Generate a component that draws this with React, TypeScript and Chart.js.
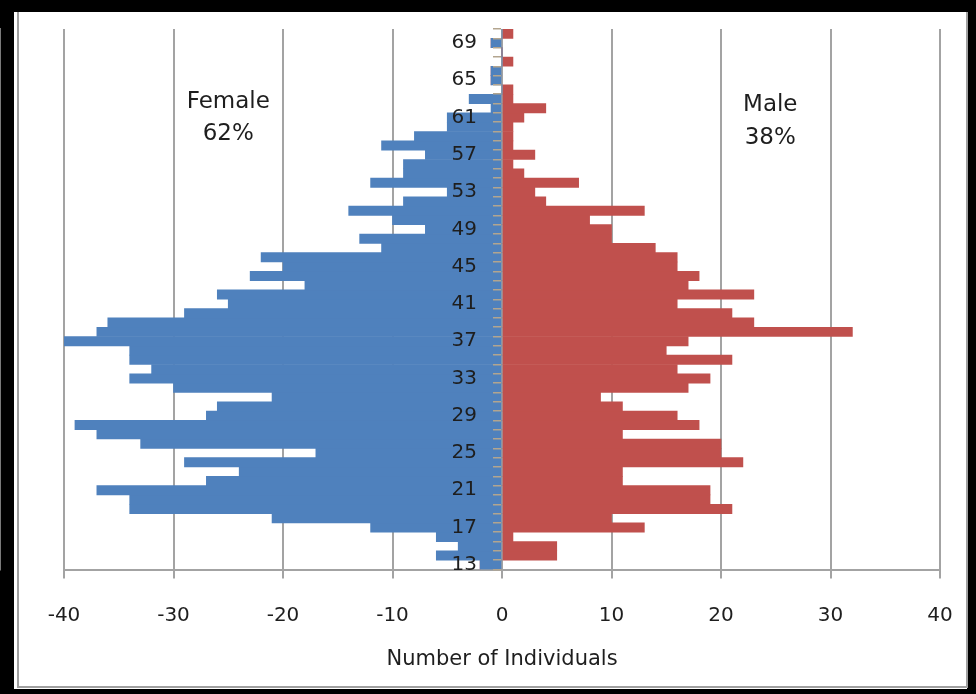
import React, { useEffect, useRef } from "react";
import { Chart, registerables } from "chart.js";

Chart.register(...registerables);

// Ages (categories), bottom to top
const ages = [
  13, 14, 15, 16, 17, 18, 19, 20, 21, 22,
  23, 24, 25, 26, 27, 28, 29, 30, 31, 32,
  33, 34, 35, 36, 37, 38, 39, 40, 41, 42,
  43, 44, 45, 46, 47, 48, 49, 50, 51, 52,
  53, 54, 55, 56, 57, 58, 59, 60, 61, 62,
  63, 64, 65, 66, 67, 68, 69, 70,
];

// Number of female individuals per age (plotted to the left)
const female = [
  2, 6, 4, 6, 12, 21, 34, 34, 37, 27,
  24, 29, 17, 33, 37, 39, 27, 26, 21, 30,
  34, 32, 34, 34, 40, 37, 36, 29, 25, 26,
  18, 23, 20, 22, 11, 13, 7, 10, 14, 9,
  5, 12, 9, 9, 7, 11, 8, 5, 5, 1,
  3, 0, 1, 1, 0, 0, 1, 0,
];

// Number of male individuals per age (plotted to the right)
const male = [
  0, 5, 5, 1, 13, 10, 21, 19, 19, 11,
  11, 22, 20, 20, 11, 18, 16, 11, 9, 17,
  19, 16, 21, 15, 17, 32, 23, 21, 16, 23,
  17, 18, 16, 16, 14, 10, 10, 8, 13, 4,
  3, 7, 2, 1, 3, 1, 1, 1, 2, 4,
  1, 1, 0, 0, 1, 0, 0, 1,
];

// Age labels shown on the vertical axis
const ageTickLabels = [13, 17, 21, 25, 29, 33, 37, 41, 45, 49, 53, 57, 61, 65, 69];

// Tick values on the horizontal axis
const xTicks = [-40, -30, -20, -10, 0, 10, 20, 30, 40];

const femaleLabel = ["Female", "62%"];
const maleLabel = ["Male", "38%"];
const xTitle = "Number of Individuals";

const FONT = "'DejaVu Sans', sans-serif";

export default function App() {
  const ref = useRef<HTMLCanvasElement | null>(null);

  useEffect(() => {
    const canvas = ref.current;
    if (!canvas) return;
    const ctx = canvas.getContext("2d");
    if (!ctx) return;

    const annotate = {
      id: "sideLabels",
      afterDraw(chart: any) {
        const c = chart.ctx;
        const xs = chart.scales.x;
        const top = chart.chartArea.top;
        c.save();
        c.fillStyle = "#1e1e1e";
        c.font = `23px ${FONT}`;
        c.textAlign = "center";
        c.textBaseline = "middle";
        const fx = xs.getPixelForValue(-25);
        const mx = xs.getPixelForValue(24.5);
        c.fillText(femaleLabel[0], fx, top + 73);
        c.fillText(femaleLabel[1], fx, top + 105);
        c.fillText(maleLabel[0], mx, top + 76);
        c.fillText(maleLabel[1], mx, top + 109);
        c.restore();
      },
    };

    const chart = new Chart(ctx, {
      type: "bar",
      data: {
        labels: ages.map(String),
        datasets: [
          {
            label: "Female",
            data: female.map((v) => -v),
            backgroundColor: "#4F81BD",
            borderWidth: 0,
          },
          {
            label: "Male",
            data: male,
            backgroundColor: "#C0504D",
            borderWidth: 0,
          },
        ],
      },
      options: {
        indexAxis: "y",
        responsive: false,
        maintainAspectRatio: false,
        animation: false,
        datasets: { bar: { barPercentage: 1, categoryPercentage: 1 } },
        layout: { padding: { left: 64, right: 40, top: 29, bottom: 17 } },
        plugins: {
          legend: { display: false },
          tooltip: { enabled: false },
          title: { display: false },
        },
        scales: {
          x: {
            type: "linear",
            min: xTicks[0],
            max: xTicks[xTicks.length - 1],
            stacked: true,
            afterBuildTicks: (axis: any) => {
              axis.ticks = xTicks.map((v) => ({ value: v }));
            },
            ticks: {
              color: "#1e1e1e",
              font: { family: FONT, size: 20, lineHeight: 1 },
              padding: 27,
              maxRotation: 0,
              minRotation: 0,
              callback: (v: any) => String(v),
            },
            grid: { color: "#a3a3a3", lineWidth: 2, tickLength: 9 },
            border: { color: "#a3a3a3", width: 2 },
            title: {
              display: true,
              text: xTitle,
              color: "#1e1e1e",
              font: { family: FONT, size: 21, lineHeight: 0.714 },
              padding: { top: 0, bottom: 9.5 },
            },
          },
          y: {
            type: "category",
            position: "center",
            reverse: true,
            stacked: true,
            ticks: {
              autoSkip: false,
              z: 1,
              color: "#1e1e1e",
              font: { family: FONT, size: 20 },
              padding: 17,
              callback: (_v: any, i: number) =>
                ageTickLabels.includes(ages[i]) ? String(ages[i]) : "",
            },
            grid: {
              drawOnChartArea: false,
              z: 1,
              tickLength: 8,
              color: "#b3a58f",
              lineWidth: 1.5,
            },
            border: { color: "#a3a3a3", width: 1.5, z: 0 },
          },
        },
      },
      plugins: [annotate],
    } as any);

    return () => chart.destroy();
  }, []);

  return (
    <div
      style={{
        position: "fixed",
        left: 0,
        top: 0,
        width: 976,
        height: 694,
        background: "#000",
        overflow: "hidden",
      }}
    >
      <div
        style={{
          position: "absolute",
          left: 14,
          top: 12,
          width: 953,
          height: 677,
          background: "#fff",
        }}
      />
      <div
        style={{
          position: "absolute",
          left: 17,
          top: 12,
          width: 947,
          height: 674,
          borderLeft: "2px solid #a0a0a0",
          borderRight: "2px solid #a0a0a0",
          borderBottom: "2px solid #a0a0a0",
        }}
      />
      <canvas
        ref={ref}
        width={980}
        height={694}
        style={{ position: "absolute", left: 0, top: 0, width: 980, height: 694 }}
      />
    </div>
  );
}
